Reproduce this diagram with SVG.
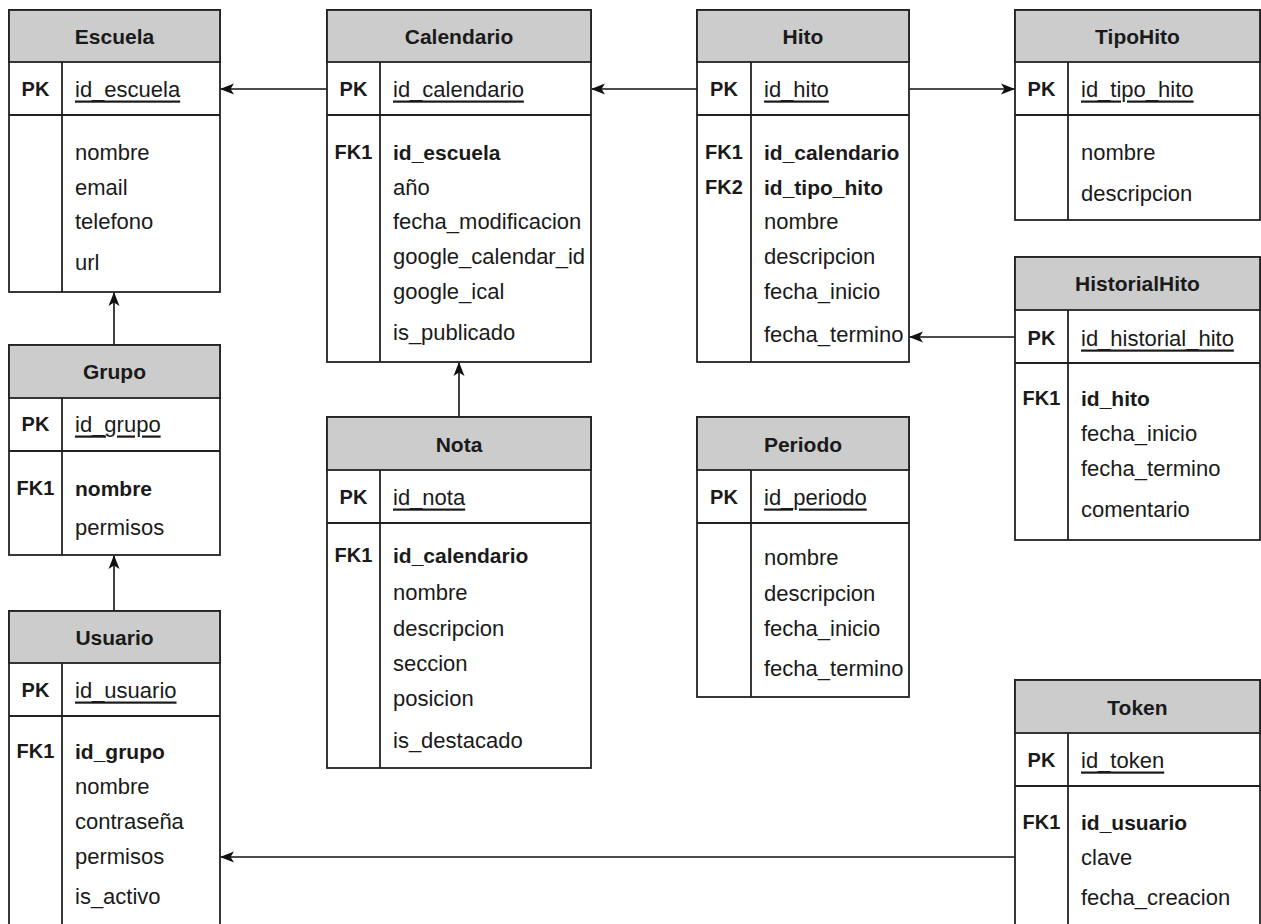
<svg xmlns="http://www.w3.org/2000/svg" width="1261" height="924" viewBox="0 0 1261 924">
<defs>
<style>
.box{fill:#fff;stroke:#222;stroke-width:1.8}
.hdr{fill:#cccccc;stroke:#222;stroke-width:1.8}
.ln{stroke:#222;stroke-width:1.8;fill:none}
.t{font-family:"Liberation Sans",Arial,sans-serif;font-size:22px;fill:#1a1a1a;dominant-baseline:central}
.b{font-family:"Liberation Sans",Arial,sans-serif;font-size:21px;font-weight:bold;fill:#1a1a1a;dominant-baseline:central}
.k{font-family:"Liberation Sans",Arial,sans-serif;font-size:20px;font-weight:bold;fill:#1a1a1a;dominant-baseline:central;text-anchor:middle}
.h{font-family:"Liberation Sans",Arial,sans-serif;font-size:21px;font-weight:bold;fill:#1a1a1a;dominant-baseline:central;text-anchor:middle}
.u{text-decoration:underline}
.c{stroke:#111;stroke-width:1.6;fill:none}
</style>
<marker id="arr" viewBox="0 0 14 12" refX="13" refY="6" markerWidth="14" markerHeight="12" markerUnits="userSpaceOnUse" orient="auto">
<path d="M0,0.5 L14,6 L0,11.5 L3.5,6 Z" fill="#111"/>
</marker>
</defs>
<rect width="1261" height="924" fill="#fff"/>

<g id="connectors">
<line class="c" x1="327" y1="89" x2="221" y2="89" marker-end="url(#arr)"/>
<line class="c" x1="697" y1="89" x2="592" y2="89" marker-end="url(#arr)"/>
<line class="c" x1="909" y1="89" x2="1014" y2="89" marker-end="url(#arr)"/>
<line class="c" x1="1015" y1="337" x2="910" y2="337" marker-end="url(#arr)"/>
<line class="c" x1="1015" y1="857" x2="221" y2="857" marker-end="url(#arr)"/>
<line class="c" x1="114" y1="345" x2="114" y2="293" marker-end="url(#arr)"/>
<line class="c" x1="114" y1="611" x2="114" y2="556" marker-end="url(#arr)"/>
<line class="c" x1="459" y1="417" x2="459" y2="363" marker-end="url(#arr)"/>
</g>

<g id="escuela">
<rect class="box" x="9" y="10" width="211" height="282"/>
<rect class="hdr" x="9" y="10" width="211" height="52"/>
<line class="ln" x1="9" y1="115" x2="220" y2="115"/>
<line class="ln" x1="62" y1="62" x2="62" y2="292"/>
<text class="h" x="114.5" y="36">Escuela</text>
<text class="k" x="35.5" y="89">PK</text>
<text class="t u" x="75" y="89">id_escuela</text>
<text class="t" x="75" y="152">nombre</text>
<text class="t" x="75" y="187">email</text>
<text class="t" x="75" y="221">telefono</text>
<text class="t" x="75" y="262">url</text>
</g>

<g id="calendario">
<rect class="box" x="327" y="10" width="264" height="352"/>
<rect class="hdr" x="327" y="10" width="264" height="52"/>
<line class="ln" x1="327" y1="115" x2="591" y2="115"/>
<line class="ln" x1="380" y1="62" x2="380" y2="362"/>
<text class="h" x="459" y="36">Calendario</text>
<text class="k" x="353.5" y="89">PK</text>
<text class="t u" x="393" y="89">id_calendario</text>
<text class="k" x="353.5" y="152">FK1</text>
<text class="b" x="393" y="152">id_escuela</text>
<text class="t" x="393" y="187">año</text>
<text class="t" x="393" y="221">fecha_modificacion</text>
<text class="t" x="393" y="256">google_calendar_id</text>
<text class="t" x="393" y="291">google_ical</text>
<text class="t" x="393" y="332">is_publicado</text>
</g>

<g id="hito">
<rect class="box" x="697" y="10" width="212" height="352"/>
<rect class="hdr" x="697" y="10" width="212" height="52"/>
<line class="ln" x1="697" y1="115" x2="909" y2="115"/>
<line class="ln" x1="751" y1="62" x2="751" y2="362"/>
<text class="h" x="803" y="36">Hito</text>
<text class="k" x="724" y="89">PK</text>
<text class="t u" x="764" y="89">id_hito</text>
<text class="k" x="724" y="152">FK1</text>
<text class="b" x="764" y="152">id_calendario</text>
<text class="k" x="724" y="187">FK2</text>
<text class="b" x="764" y="187">id_tipo_hito</text>
<text class="t" x="764" y="221">nombre</text>
<text class="t" x="764" y="256">descripcion</text>
<text class="t" x="764" y="291">fecha_inicio</text>
<text class="t" x="764" y="334">fecha_termino</text>
</g>

<g id="tipohito">
<rect class="box" x="1015" y="10" width="245" height="210"/>
<rect class="hdr" x="1015" y="10" width="245" height="52"/>
<line class="ln" x1="1015" y1="115" x2="1260" y2="115"/>
<line class="ln" x1="1068" y1="62" x2="1068" y2="220"/>
<text class="h" x="1137.5" y="36">TipoHito</text>
<text class="k" x="1041.5" y="89">PK</text>
<text class="t u" x="1081" y="89">id_tipo_hito</text>
<text class="t" x="1081" y="152">nombre</text>
<text class="t" x="1081" y="193">descripcion</text>
</g>

<g id="historialhito">
<rect class="box" x="1015" y="257" width="245" height="283"/>
<rect class="hdr" x="1015" y="257" width="245" height="53"/>
<line class="ln" x1="1015" y1="363" x2="1260" y2="363"/>
<line class="ln" x1="1068" y1="310" x2="1068" y2="540"/>
<text class="h" x="1137.5" y="283">HistorialHito</text>
<text class="k" x="1041.5" y="338">PK</text>
<text class="t u" x="1081" y="338">id_historial_hito</text>
<text class="k" x="1041.5" y="398">FK1</text>
<text class="b" x="1081" y="398">id_hito</text>
<text class="t" x="1081" y="433">fecha_inicio</text>
<text class="t" x="1081" y="468">fecha_termino</text>
<text class="t" x="1081" y="509">comentario</text>
</g>

<g id="grupo">
<rect class="box" x="9" y="345" width="211" height="210"/>
<rect class="hdr" x="9" y="345" width="211" height="53"/>
<line class="ln" x1="9" y1="451" x2="220" y2="451"/>
<line class="ln" x1="62" y1="398" x2="62" y2="555"/>
<text class="h" x="114.5" y="371">Grupo</text>
<text class="k" x="35.5" y="424">PK</text>
<text class="t u" x="75" y="424">id_grupo</text>
<text class="k" x="35.5" y="488">FK1</text>
<text class="b" x="75" y="488">nombre</text>
<text class="t" x="75" y="527">permisos</text>
</g>

<g id="usuario">
<rect class="box" x="9" y="611" width="211" height="330"/>
<rect class="hdr" x="9" y="611" width="211" height="52"/>
<line class="ln" x1="9" y1="716" x2="220" y2="716"/>
<line class="ln" x1="62" y1="663" x2="62" y2="941"/>
<text class="h" x="114.5" y="637">Usuario</text>
<text class="k" x="35.5" y="690">PK</text>
<text class="t u" x="75" y="690">id_usuario</text>
<text class="k" x="35.5" y="751">FK1</text>
<text class="b" x="75" y="751">id_grupo</text>
<text class="t" x="75" y="786">nombre</text>
<text class="t" x="75" y="821">contraseña</text>
<text class="t" x="75" y="856">permisos</text>
<text class="t" x="75" y="896">is_activo</text>
</g>

<g id="nota">
<rect class="box" x="327" y="417" width="264" height="351"/>
<rect class="hdr" x="327" y="417" width="264" height="53"/>
<line class="ln" x1="327" y1="523" x2="591" y2="523"/>
<line class="ln" x1="380" y1="470" x2="380" y2="768"/>
<text class="h" x="459" y="444">Nota</text>
<text class="k" x="353.5" y="497">PK</text>
<text class="t u" x="393" y="497">id_nota</text>
<text class="k" x="353.5" y="555">FK1</text>
<text class="b" x="393" y="555">id_calendario</text>
<text class="t" x="393" y="592">nombre</text>
<text class="t" x="393" y="628">descripcion</text>
<text class="t" x="393" y="663">seccion</text>
<text class="t" x="393" y="698">posicion</text>
<text class="t" x="393" y="740">is_destacado</text>
</g>

<g id="periodo">
<rect class="box" x="697" y="417" width="212" height="280"/>
<rect class="hdr" x="697" y="417" width="212" height="53"/>
<line class="ln" x1="697" y1="523" x2="909" y2="523"/>
<line class="ln" x1="751" y1="470" x2="751" y2="697"/>
<text class="h" x="803" y="444">Periodo</text>
<text class="k" x="724" y="497">PK</text>
<text class="t u" x="764" y="497">id_periodo</text>
<text class="t" x="764" y="557">nombre</text>
<text class="t" x="764" y="593">descripcion</text>
<text class="t" x="764" y="628">fecha_inicio</text>
<text class="t" x="764" y="668">fecha_termino</text>
</g>

<g id="token">
<rect class="box" x="1015" y="680" width="245" height="261"/>
<rect class="hdr" x="1015" y="680" width="245" height="53"/>
<line class="ln" x1="1015" y1="786" x2="1260" y2="786"/>
<line class="ln" x1="1068" y1="733" x2="1068" y2="941"/>
<text class="h" x="1137.5" y="707">Token</text>
<text class="k" x="1041.5" y="760">PK</text>
<text class="t u" x="1081" y="760">id_token</text>
<text class="k" x="1041.5" y="822">FK1</text>
<text class="b" x="1081" y="822">id_usuario</text>
<text class="t" x="1081" y="857">clave</text>
<text class="t" x="1081" y="897">fecha_creacion</text>
</g>
</svg>
